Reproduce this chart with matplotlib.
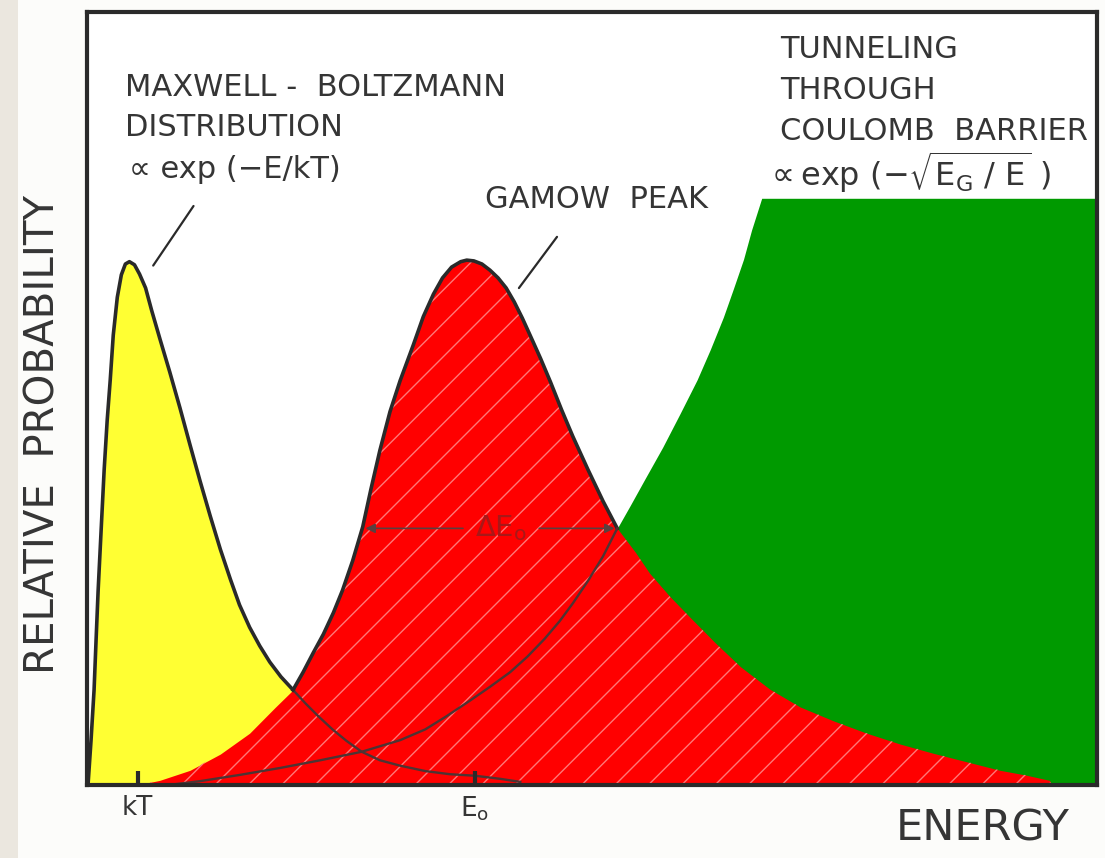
import matplotlib.pyplot as plt
from matplotlib.patches import Rectangle

plt.rcParams['font.family'] = ['DejaVu Sans']
plt.rcParams['mathtext.fontset'] = 'dejavusans'
plt.rcParams['hatch.linewidth'] = 1.0

# values (energy 0..10, relative probability 0..100)
mb_x = [0.01, 0.04, 0.07, 0.09, 0.11, 0.14, 0.17, 0.20, 0.23, 0.26, 0.30, 0.34, 0.38,
        0.42, 0.47, 0.52, 0.58, 0.64, 0.72, 0.82, 0.92, 1.02, 1.12, 1.22, 1.32, 1.42,
        1.51, 1.61, 1.71, 1.81, 1.92, 2.04, 2.16, 2.29, 2.43, 2.57, 2.72, 2.90, 3.10,
        3.35, 3.59, 3.84, 4.09, 4.29]
mb_y = [0.0, 5.8, 12.3, 18.8, 25.1, 33.0, 40.8, 47.2, 52.4, 58.2, 63.1, 66.0, 67.4,
        67.7, 67.3, 66.1, 64.3, 61.4, 57.8, 53.4, 48.8, 44.0, 39.3, 34.8, 30.5, 26.6,
        23.3, 20.4, 18.0, 15.9, 14.0, 12.3, 10.6, 8.9, 7.2, 5.7, 4.3, 3.2, 2.5,
        1.8, 1.4, 1.2, 0.8, 0.4]

gamow_x = [0.50, 0.72, 1.02, 1.32, 1.61, 1.86, 2.04, 2.14, 2.24, 2.34, 2.44, 2.53, 2.63,
           2.73, 2.81, 2.90, 3.00, 3.10, 3.23, 3.33, 3.43, 3.52, 3.61, 3.70, 3.76, 3.83,
           3.91, 3.99, 4.07, 4.15, 4.23, 4.31, 4.39, 4.49, 4.59, 4.70, 4.81, 4.96, 5.11,
           5.25, 5.43, 5.57, 5.77, 5.97, 6.22, 6.47, 6.76, 7.06, 7.39, 7.72, 8.05, 8.38,
           8.71, 9.04, 9.29, 9.53, 9.55]
gamow_y = [0.0, 0.6, 1.9, 4.0, 6.7, 10.0, 12.3, 14.6, 17.1, 19.5, 22.3, 25.2, 29.0,
           33.4, 38.2, 43.3, 48.3, 52.3, 56.9, 60.6, 63.5, 65.6, 67.0, 67.7, 67.9, 67.8,
           67.4, 66.6, 65.6, 64.3, 62.5, 60.4, 58.1, 55.2, 52.1, 48.5, 45.1, 40.8, 36.7,
           33.2, 30.1, 27.4, 24.4, 21.7, 18.4, 15.3, 12.4, 10.1, 8.3, 6.7, 5.3, 4.1,
           3.0, 1.9, 1.3, 0.6, 0.0]

tunnel_x = [0.87, 1.12, 1.51, 1.91, 2.31, 2.72, 3.10, 3.35, 3.56, 3.79, 3.99, 4.19, 4.36,
            4.53, 4.68, 4.81, 4.96, 5.11, 5.25, 5.38, 5.52, 5.70, 5.87, 6.04, 6.17, 6.30,
            6.40, 6.50, 6.58, 6.68, 10.1]
tunnel_y = [0.1, 0.5, 1.3, 2.2, 3.2, 4.3, 5.8, 7.2, 8.9, 10.9, 12.7, 14.6, 16.6,
            18.9, 21.2, 23.5, 26.4, 29.6, 33.2, 36.2, 39.5, 43.7, 48.0, 52.4, 56.3, 60.5,
            64.2, 68.0, 71.8, 75.9, 75.9]

tick_pos = [0.50, 3.84]
tick_labels = ['kT', r'E$_\mathrm{o}$']

mb_cross = 2.04      # Maxwell-Boltzmann meets the Gamow peak
green_cross = 5.25   # Gamow peak meets the tunnelling curve
delta_e = (2.73, 5.25, 33.2)

ink = '#2a2a2a'
inner = '#4d3434'
txt = '#353535'

fig = plt.figure(figsize=(11.05, 8.58), dpi=100, facecolor='#fcfcfa')
fig.patches.append(Rectangle((0, 0), 18 / 1105, 1, transform=fig.transFigure,
                             facecolor='#ebe7df', edgecolor='none', zorder=0))
ax = fig.add_axes([87 / 1105, 1 - 785 / 858, 1010 / 1105, 773 / 858])
ax.set_xlim(0, 10)
ax.set_ylim(0, 100)

# fills
ax.fill_between(tunnel_x, 0, tunnel_y, color='#009a00', lw=0, zorder=1)
ax.fill_between(mb_x, 0, mb_y, color='#ffff33', lw=0, zorder=2)
ax.fill_between(gamow_x, 0, gamow_y, color='#ff0000', lw=0, zorder=3)
ax.fill_between(gamow_x, 0, gamow_y, facecolor='none', edgecolor='#ff7777',
                hatch='/', lw=0, zorder=3.5)

# outlines
mb_in = [(x, y) for x, y in zip(mb_x, mb_y) if x <= mb_cross]
mb_out = [(x, y) for x, y in zip(mb_x, mb_y) if x >= mb_cross]
ax.plot(*zip(*mb_in), color=ink, lw=2.6, zorder=5, solid_joinstyle='round')
ax.plot(*zip(*mb_out), color=inner, lw=1.7, zorder=5)
gp = [(x, y) for x, y in zip(gamow_x, gamow_y) if mb_cross <= x <= green_cross]
ax.plot(*zip(*gp), color=ink, lw=2.6, zorder=5, solid_joinstyle='round')
tp = [(x, y) for x, y in zip(tunnel_x, tunnel_y) if x <= green_cross]
ax.plot(*zip(*tp), color=inner, lw=1.7, zorder=5)

# delta E0 arrows
x0, x1, yd = delta_e
arr = dict(arrowstyle='-|>', color='#5a4040', lw=1.2, mutation_scale=14)
ax.annotate('', xy=(x0, yd), xytext=(3.75, yd), arrowprops=arr, zorder=6)
ax.annotate('', xy=(x1, yd), xytext=(4.45, yd), arrowprops=arr, zorder=6)
ax.text(4.1, yd, r'$\Delta$E$_\mathrm{o}$', color='#a81818', fontsize=21,
        ha='center', va='center', zorder=6)

# leader lines
lead = dict(arrowstyle='-', color=ink, lw=1.6)
ax.annotate('', xy=(0.64, 66.9), xytext=(1.07, 75.2), arrowprops=lead)
ax.annotate('', xy=(4.26, 64.0), xytext=(4.67, 71.2), arrowprops=lead)

# annotations
fs = 22
ax.text(0.38, 90.2, 'MAXWELL -  BOLTZMANN', fontsize=fs, color=txt, va='center')
ax.text(0.38, 85.1, 'DISTRIBUTION', fontsize=fs, color=txt, va='center')
ax.text(0.42, 79.6, '∝ exp (−E/kT)', fontsize=fs, color=txt, va='center')
ax.text(3.94, 75.7, 'GAMOW  PEAK', fontsize=fs, color=txt, va='center')
ax.text(6.86, 95.1, 'TUNNELING', fontsize=fs, color=txt, va='center')
ax.text(6.86, 89.8, 'THROUGH', fontsize=fs, color=txt, va='center')
ax.text(6.86, 84.6, 'COULOMB  BARRIER', fontsize=fs, color=txt, va='center')
ax.text(6.71, 79.3, r'$\propto\mathrm{exp}\ (-\sqrt{\mathrm{E_G}\ /\ \mathrm{E}}\ )$',
        fontsize=23, color=txt, va='center')

# axes
for s in ax.spines.values():
    s.set_linewidth(3)
    s.set_color(ink)
    s.set_zorder(7)
ax.xaxis.set_zorder(8)
ax.set_yticks([])
ax.set_xticks(tick_pos)
ax.set_xticklabels(tick_labels)
ax.tick_params(axis='x', direction='in', length=10, width=3, color=ink,
               labelsize=19, labelcolor=txt, pad=7)
ax.text(0.887, -0.056, 'ENERGY', transform=ax.transAxes, fontsize=31,
        color=txt, ha='center', va='center')
ax.text(-0.0426, 0.454, 'RELATIVE  PROBABILITY', transform=ax.transAxes, fontsize=29,
        color=txt, ha='center', va='center', rotation=90)

plt.savefig('out.png', dpi=100, facecolor=fig.get_facecolor())
